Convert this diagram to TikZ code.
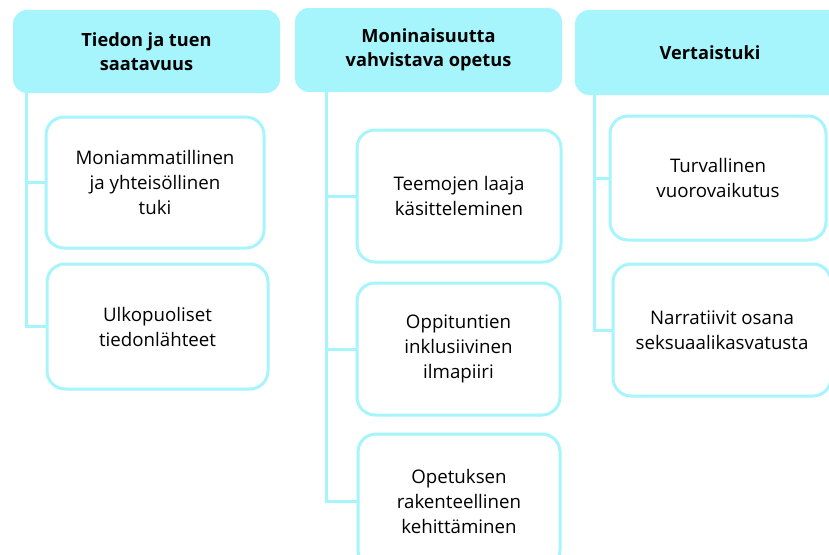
\documentclass[tikz,border=0pt]{standalone}
\usepackage{fontspec}
\setmainfont{Open Sans}
\usepackage{xcolor}
\usepackage{tikz}
\usetikzlibrary{positioning}
\definecolor{lightcyan}{RGB}{166,244,252}

\begin{document}
\begin{tikzpicture}[x=1pt,y=-1pt,every node/.style={align=center,font=\fontsize{18.7}{25}\selectfont},
    head/.style={fill=lightcyan,rounded corners=14pt,font=\bfseries\fontsize{18.2}{24.5}\selectfont},
    item/.style={draw=lightcyan,fill=white,line width=3pt,rounded corners=18pt},
    link/.style={draw=lightcyan,line width=3pt}]
      \useasboundingbox (0,0) rectangle (829,554);
      \clip (0,0) rectangle (829,554);
      % headers
      \node[head,minimum width=267pt,minimum height=83pt] (tieto) at (146.5,51.5) {Tiedon ja tuen\\saatavuus};
      \node[head,minimum width=267pt,minimum height=84pt] (opetus) at (428.5,50) {Moninaisuutta\\vahvistava opetus};
      \node[head,minimum width=270pt,minimum height=85pt] (vertais) at (710,52.5) {Vertaistuki};
      % children
      \node[item,minimum width=218pt,minimum height=131pt] (tuki) at (155,182.5) {Moniammatillinen\\ja yhteisöllinen\\tuki};
      \node[item,minimum width=221pt,minimum height=125pt] (lahteet) at (157.5,326.5) {Ulkopuoliset\\tiedonlähteet};
      \node[item,minimum width=204pt,minimum height=132pt] (teemat) at (459,196) {Teemojen laaja\\käsitteleminen};
      \node[item,minimum width=203pt,minimum height=132pt] (ilmapiiri) at (458.5,349) {Oppituntien\\inklusiivinen\\ilmapiiri};
      \node[item,minimum width=202pt,minimum height=134pt] (kehitys) at (459,501) {Opetuksen\\rakenteellinen\\kehittäminen};
      \node[item,minimum width=216pt,minimum height=124pt] (vuoro) at (718,178) {Turvallinen\\vuorovaikutus};
      \node[item,minimum width=218pt,minimum height=132pt] (narr) at (722,330) {Narratiivit osana\\seksuaalikasvatusta};
      % connectors
      \draw[link] ([xshift=14pt]tieto.south west) |- (tuki.west);
      \draw[link] ([xshift=14pt]tieto.south west) |- (lahteet.west);
      \draw[link] ([xshift=32pt]opetus.south west) |- (teemat.west);
      \draw[link] ([xshift=32pt]opetus.south west) |- (ilmapiiri.west);
      \draw[link] ([xshift=32pt]opetus.south west) |- (kehitys.west);
      \draw[link] ([xshift=20pt]vertais.south west) |- (vuoro.west);
      \draw[link] ([xshift=20pt]vertais.south west) |- (narr.west);
\end{tikzpicture}
\end{document}
